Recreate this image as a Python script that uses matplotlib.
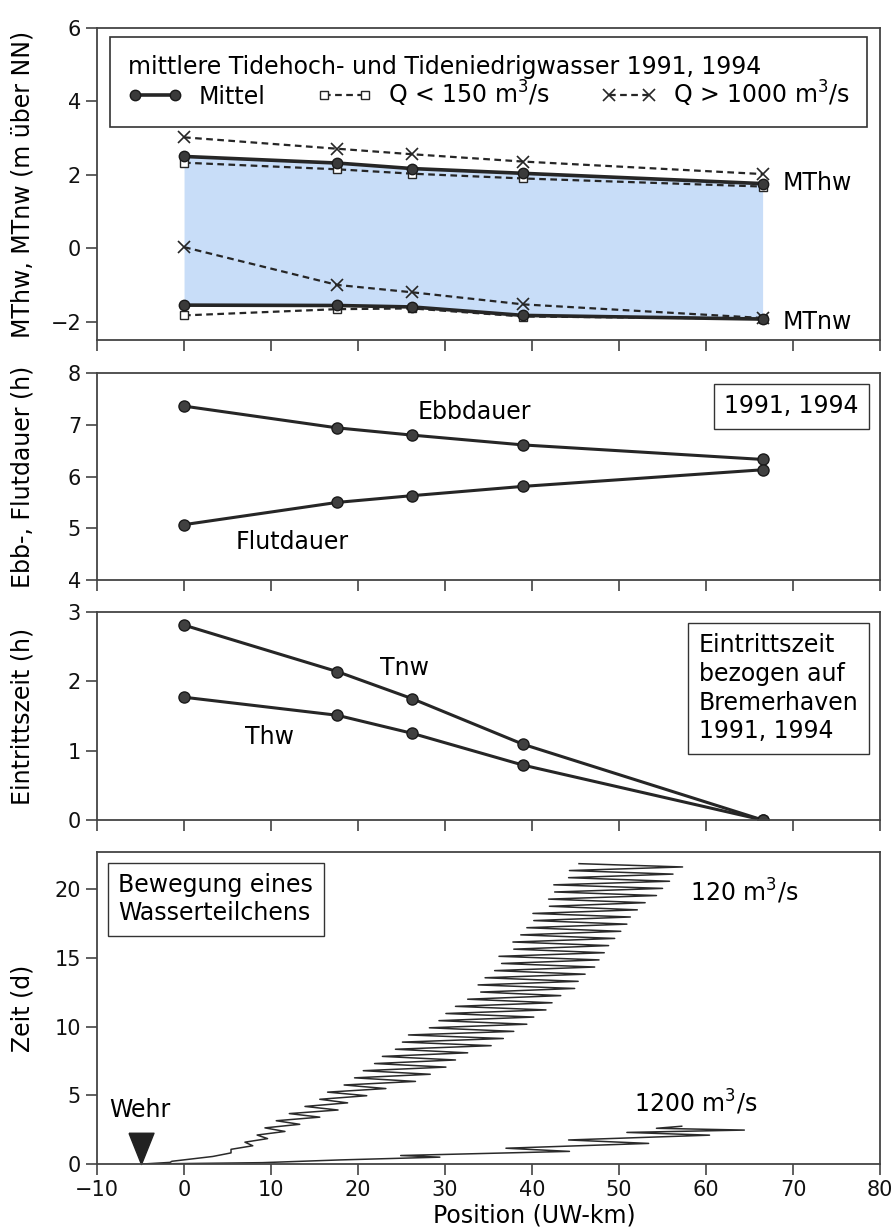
import numpy as np
import matplotlib.pyplot as plt
from matplotlib.offsetbox import AnchoredText

plt.rcParams['font.family'] = 'DejaVu Sans'
plt.rcParams['mathtext.default'] = 'regular'
plt.rcParams['axes.edgecolor'] = '#444444'
plt.rcParams['axes.linewidth'] = 1.3
for a in ('xtick', 'ytick'):
    plt.rcParams[a + '.major.size'] = 8
    plt.rcParams[a + '.major.width'] = 1.2
    plt.rcParams[a + '.color'] = '#444444'
    plt.rcParams[a + '.labelcolor'] = '#111111'
    plt.rcParams[a + '.labelsize'] = 15
    plt.rcParams[a + '.direction'] = 'out'

#%% Daten
km = [0, 17.6, 26.2, 39.0, 66.5]

mthw_mittel = [2.50, 2.32, 2.17, 2.04, 1.76]
mthw_q150 = [2.33, 2.15, 2.03, 1.90, 1.68]
mthw_q1000 = [3.02, 2.71, 2.56, 2.36, 2.02]
mtnw_mittel = [-1.55, -1.56, -1.60, -1.83, -1.93]
mtnw_q150 = [-1.83, -1.66, -1.64, -1.86, -1.92]
mtnw_q1000 = [0.03, -1.00, -1.20, -1.53, -1.90]

ebbdauer = [7.36, 6.94, 6.80, 6.61, 6.33]
flutdauer = [5.07, 5.50, 5.63, 5.81, 6.13]

tnw = [2.81, 2.14, 1.75, 1.09, 0.0]
thw = [1.77, 1.51, 1.25, 0.79, 0.0]

# Wasserteilchen 120 m3/s: Kenterpunkte (Flutende = lo, Ebbende = hi)
start120_t = [0.0, 0.12, 0.20]
start120_x = [-4.8, -1.6, -1.4]
t_lo = [0.55, 1.07, 1.59, 2.11, 2.63, 3.15, 3.67, 4.19, 4.71, 5.23, 5.75,
        6.27, 6.79, 7.31, 7.83, 8.35, 8.87, 9.39, 9.91, 10.43, 10.95,
        11.47, 11.99, 12.51, 13.03, 13.55, 14.07, 14.59, 15.11, 15.63,
        16.15, 16.67, 17.19, 17.71, 18.23, 18.75, 19.27, 19.79, 20.31,
        20.83, 21.35]
x_lo = [3.3, 5.4, 7.0, 8.4, 9.3, 10.6, 12.1, 13.9, 15.6, 16.5, 18.4,
        19.6, 20.6, 21.9, 22.8, 24.3, 25.1, 25.8, 28.2, 29.3, 30.1,
        31.2, 32.6, 34.1, 33.8, 34.6, 35.7, 36.5, 36.2, 37.9,
        37.8, 38.7, 39.4, 40.2, 40.1, 42.0, 41.9, 42.6, 42.5,
        44.2, 44.3]
t_hi = [0.81, 1.33, 1.85, 2.37, 2.89, 3.41, 3.93, 4.45, 4.97, 5.49, 6.01,
        6.53, 7.05, 7.57, 8.09, 8.61, 9.13, 9.65, 10.17, 10.69, 11.21,
        11.73, 12.25, 12.77, 13.29, 13.81, 14.33, 14.85, 15.37, 15.89,
        16.41, 16.93, 17.45, 17.97, 18.49, 19.01, 19.53, 20.05, 20.57,
        21.09, 21.61]
x_hi = [5.4, 7.9, 9.6, 11.6, 13.3, 15.6, 17.7, 18.8, 21.0, 23.2, 26.6,
        28.3, 30.1, 31.2, 32.6, 35.3, 36.7, 37.9, 39.4, 40.2, 41.6,
        42.3, 43.3, 44.9, 45.3, 46.1, 47.2, 47.7, 48.3, 48.8,
        49.5, 50.2, 50.9, 51.3, 52.1, 53.0, 54.3, 55.0, 55.8,
        56.2, 57.3]
end120_t = [21.85]
end120_x = [45.4]

# Wasserteilchen 1200 m3/s
t1200 = [0.0, 0.10, 0.30, 0.50, 0.62, 0.92, 1.15, 1.50, 1.75, 2.10, 2.30,
         2.47, 2.60, 2.75]
x1200 = [-4.8, 9.0, 18.0, 29.4, 24.9, 44.3, 37.0, 53.4, 44.2, 60.4, 50.9,
         64.4, 54.3, 57.2]

wehr_km = [-5.0]
wehr_t = [0.0]

#%% Abbildung
fig = plt.figure(figsize=(8.96, 12.31), dpi=100)
L, W = 0.1083, 0.8739
ax1 = fig.add_axes([L, 0.7238, W, 0.2535])
ax2 = fig.add_axes([L, 0.5288, W, 0.1682])
ax3 = fig.add_axes([L, 0.3339, W, 0.1690])
ax4 = fig.add_axes([L, 0.0544, W, 0.2535])

dark = '#262626'
for ax in (ax1, ax2, ax3, ax4):
    ax.set_xlim(-10, 80)
    ax.set_xticks(np.arange(-10, 81, 10))
    ax.yaxis.set_label_coords(-0.08, 0.5)
for ax in (ax1, ax2, ax3):
    ax.tick_params(labelbottom=False)

# --- Panel 1
ax1.fill_between(km, mtnw_mittel, mthw_mittel, color='#c8ddf8', lw=0)
mit = dict(color=dark, lw=2.6, marker='o', ms=7.5, mfc='#3a3a3a', mec='#1a1a1a')
q150 = dict(color=dark, lw=1.6, ls=(0, (3, 2)), marker='s', ms=6, mfc='white', mec=dark, mew=1)
q1000 = dict(color=dark, lw=1.6, ls=(0, (3, 2)), marker='x', ms=8, mew=1.2)
ax1.plot(km, mthw_q1000, label='Q > 1000 m$^3$/s', **q1000)
ax1.plot(km, mtnw_q1000, **q1000)
ax1.plot(km, mthw_q150, label='Q < 150 m$^3$/s', **q150)
ax1.plot(km, mtnw_q150, **q150)
ax1.plot(km, mthw_mittel, label='Mittel', **mit)
ax1.plot(km, mtnw_mittel, **mit)
h, l = ax1.get_legend_handles_labels()
leg = ax1.legend(h[::-1], l[::-1], ncol=3, loc='upper center',
                 bbox_to_anchor=(0.5, 0.971), borderaxespad=0,
                 title='mittlere Tidehoch- und Tideniedrigwasser 1991, 1994',
                 title_fontsize=17, fontsize=17, alignment='left',
                 numpoints=2, handlelength=2.3, handletextpad=0.7,
                 columnspacing=2.2, borderpad=0.75, labelspacing=0.0,
                 fancybox=False, framealpha=1, edgecolor='#333333')
leg.get_frame().set_linewidth(1.2)
ax1.text(68.8, 1.77, 'MThw', fontsize=17, va='center')
ax1.text(68.8, -2.0, 'MTnw', fontsize=17, va='center')
ax1.set_ylim(-2.5, 6)
ax1.set_yticks([-2, 0, 2, 4, 6])
ax1.set_ylabel('MThw, MTnw (m über NN)', fontsize=17)

# --- Panel 2
pt = dict(color=dark, lw=2.2, marker='o', ms=8, mfc='#404040', mec='#1a1a1a')
ax2.plot(km, ebbdauer, **pt)
ax2.plot(km, flutdauer, **pt)
ax2.text(26.8, 7.25, 'Ebbdauer', fontsize=17, va='center')
ax2.text(5.9, 4.73, 'Flutdauer', fontsize=17, va='center')
at = AnchoredText('1991, 1994', loc='upper right', prop=dict(size=17),
                  borderpad=0.45, pad=0.45)
at.patch.set_boxstyle('square,pad=0')
at.patch.set_edgecolor('#333333')
ax2.add_artist(at)
ax2.set_ylim(4, 8)
ax2.set_yticks([4, 5, 6, 7, 8])
ax2.set_ylabel('Ebb-, Flutdauer (h)', fontsize=17)

# --- Panel 3
ax3.plot(km, tnw, **pt)
ax3.plot(km, thw, **pt)
ax3.text(22.5, 2.19, 'Tnw', fontsize=17, va='center')
ax3.text(7.0, 1.2, 'Thw', fontsize=17, va='center')
at = AnchoredText('Eintrittszeit\nbezogen auf\nBremerhaven\n1991, 1994',
                  loc='upper right', prop=dict(size=17, linespacing=1.25),
                  borderpad=0.45, pad=0.45)
at.patch.set_boxstyle('square,pad=0')
at.patch.set_edgecolor('#333333')
ax3.add_artist(at)
ax3.set_ylim(0, 3)
ax3.set_yticks([0, 1, 2, 3])
ax3.set_ylabel('Eintrittszeit (h)', fontsize=17)

# --- Panel 4
path_t = np.concatenate([start120_t, np.column_stack([t_lo, t_hi]).ravel(), end120_t])
path_x = np.concatenate([start120_x, np.column_stack([x_lo, x_hi]).ravel(), end120_x])
trk = dict(color='#2a2a2a', lw=1.1)
ax4.plot(path_x, path_t, **trk)
ax4.plot(x1200, t1200, **trk)
tri = [(-0.4, 1.0), (0.4, 1.0), (0.0, 0.0), (-0.4, 1.0)]
ax4.plot(wehr_km, wehr_t, ls='none', marker=tri, ms=45, color='#222222', clip_on=False)
ax4.text(-8.6, 3.9, 'Wehr', fontsize=17, va='center')
ax4.text(58.1, 19.8, '120 m$^3$/s', fontsize=17, va='center')
ax4.text(51.7, 4.5, '1200 m$^3$/s', fontsize=17, va='center')
at = AnchoredText('Bewegung eines\nWasserteilchens', loc='upper left',
                  prop=dict(size=17, linespacing=1.2), borderpad=0.45, pad=0.45)
at.patch.set_boxstyle('square,pad=0')
at.patch.set_edgecolor('#333333')
ax4.add_artist(at)
ax4.set_ylim(0, 22.7)
ax4.set_yticks([0, 5, 10, 15, 20])
ax4.set_ylabel('Zeit (d)', fontsize=17)
ax4.set_xlabel('Position (UW-km)', fontsize=17)
ax4.xaxis.set_label_coords(0.558, -0.125)

fig.savefig('out.png', dpi=100)
